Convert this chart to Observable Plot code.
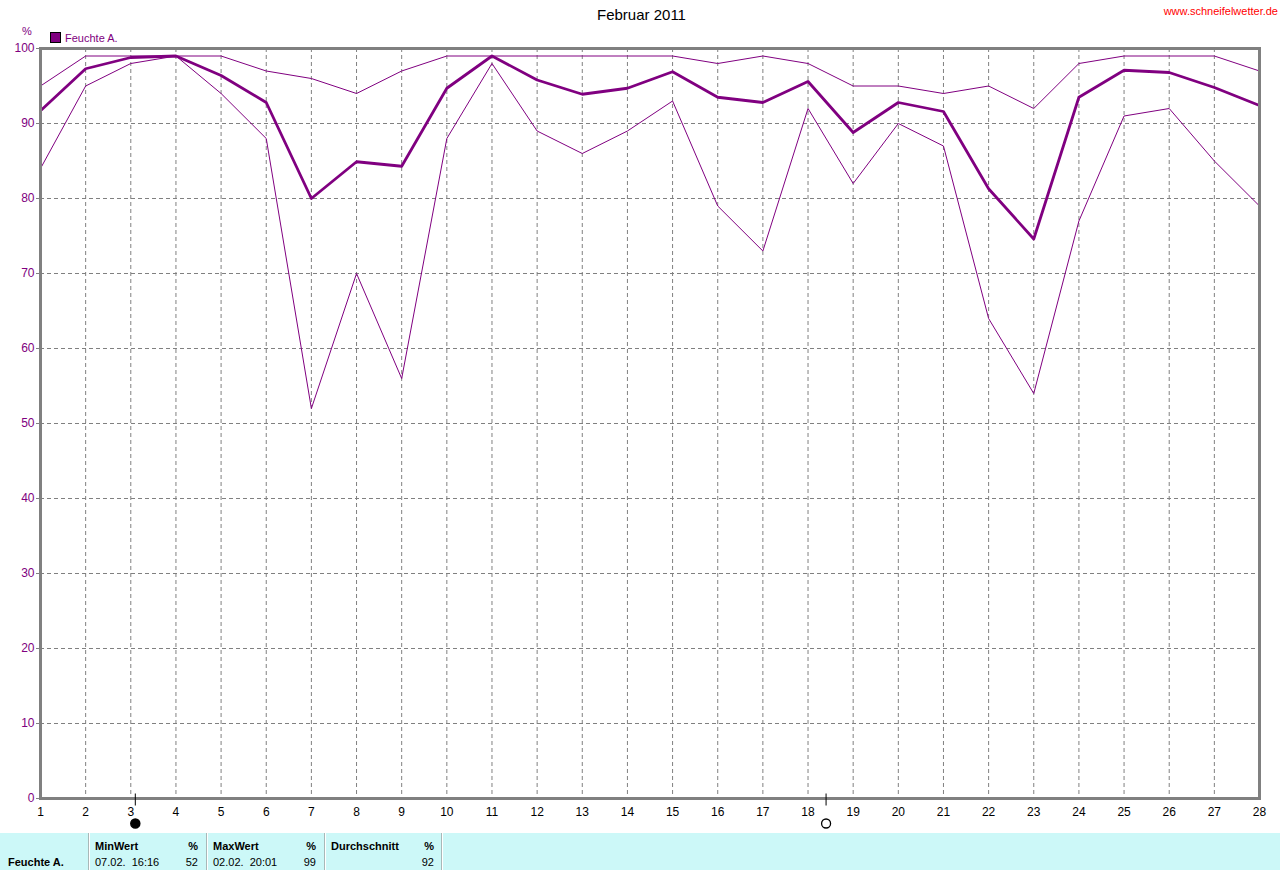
<!DOCTYPE html>
<html>
<head>
<meta charset="utf-8">
<script src="https://cdn.jsdelivr.net/npm/d3@7"></script>
<script src="https://cdn.jsdelivr.net/npm/@observablehq/plot@0.6"></script>
<style>
  html, body { margin: 0; padding: 0; background: #ffffff; }
  #wrap { position: relative; width: 1280px; height: 870px; overflow: hidden; font-family: "Liberation Sans", Arial, sans-serif; }
  #chart { position: absolute; left: 0; top: 0; }
  .abs { position: absolute; white-space: pre; line-height: 1; }
  #title { left: 0; width: 1283px; top: 7px; text-align: center; font-size: 15px; color: #000; }
  #site { right: 2px; top: 6px; font-size: 11px; color: #ff0000; }
  #unit { left: 22px; top: 26px; font-size: 11px; color: #800080; }
  #legend { left: 50px; top: 32px; font-size: 11px; color: #800080; }
  #legend .sw { display: inline-block; width: 9px; height: 9px; background: #800080; border: 1px solid #000; vertical-align: -1px; margin-right: 4px; }
  #table { position: absolute; left: 0; top: 833px; width: 1280px; height: 37px; background: #ccf8f8; font-size: 11px; }
  .sep { position: absolute; top: 0; width: 1px; height: 37px; background: #a8b8b8; border-right: 1px solid #ffffff; }
  .b { font-weight: bold; }
</style>
</head>
<body>
<div id="wrap">
  <div id="chart"></div>
  <div id="title" class="abs">Februar 2011</div>
  <div id="site" class="abs">www.schneifelwetter.de</div>
  <div id="unit" class="abs">%</div>
  <div id="legend" class="abs"><span class="sw"></span>Feuchte A.</div>
  <div id="table"></div>
</div>
<script>
// ---- data ----
const days = d3.range(1, 29);
const maxVals = [95, 99, 99, 99, 99, 97, 96, 94, 97, 99, 99, 99, 99, 99, 99, 98, 99, 98, 95, 95, 94, 95, 92, 98, 99, 99, 99, 97];
const avgVals = [91.7, 97.3, 98.8, 99, 96.4, 92.8, 80, 84.9, 84.3, 94.7, 99, 95.8, 93.9, 94.7, 96.9, 93.5, 92.8, 95.6, 88.8, 92.8, 91.6, 81.3, 74.6, 93.5, 97.1, 96.8, 94.8, 92.4];
const minVals = [84, 95, 98, 99, 94, 88, 52, 70, 56, 88, 98, 89, 86, 89, 93, 79, 73, 92, 82, 90, 87, 64, 54, 77, 91, 92, 85, 79];
const yTicks = d3.range(0, 101, 10);
const moonDays = [3.1, 18.4];
const moonTypes = ["new", "full"];

const tableHeaders = ["MinWert", "MaxWert", "Durchschnitt"];
const tableUnits = ["%", "%", "%"];
const tableTimes = ["07.02.  16:16", "02.02.  20:01", ""];
const tableValues = ["52", "99", "92"];
const seriesName = "Feuchte A.";

// ---- build ----
const rows = days.map((d, i) => ({day: d, max: maxVals[i], avg: avgVals[i], min: minVals[i]}));
const moons = moonDays.map((d, i) => ({day: d, type: moonTypes[i]}));
const purple = "#800080";
const gray = "#808080";
const tickSymbol = {draw(ctx) { ctx.moveTo(0, -5); ctx.lineTo(0, 7); }};

const chart = Plot.plot({
  width: 1280,
  height: 830,
  marginTop: 48,
  marginRight: 21,
  marginBottom: 32,
  marginLeft: 40,
  style: {fontFamily: "'Liberation Sans', Arial, sans-serif", fontSize: "12px", background: "transparent", overflow: "visible"},
  x: {domain: [1, 28], label: null},
  y: {domain: [0, 100], label: null},
  marks: [
    Plot.gridX(days, {stroke: gray, strokeOpacity: 1, strokeDasharray: "4,3"}),
    Plot.gridY(yTicks.slice(1, -1), {stroke: gray, strokeOpacity: 1, strokeDasharray: "4,3"}),
    Plot.line(rows, {x: "day", y: "max", stroke: purple, strokeWidth: 1}),
    Plot.line(rows, {x: "day", y: "min", stroke: purple, strokeWidth: 1}),
    Plot.line(rows, {x: "day", y: "avg", stroke: purple, strokeWidth: 2.8}),
    Plot.frame({stroke: gray, strokeWidth: 3}),
    Plot.axisY(yTicks, {tickSize: 4, tickPadding: 2, stroke: gray, fill: purple, fontSize: 12, label: null}),
    Plot.axisX(days, {tickSize: 0, tickPadding: 9, fill: "#000", fontSize: 12, label: null}),
    Plot.dot(moons, {x: "day", y: 0, symbol: tickSymbol, stroke: "#000", fill: "none", strokeWidth: 1}),
    Plot.dot(moons.filter(m => m.type === "new"), {x: "day", y: 0, dy: 25, r: 4.5, fill: "#000", stroke: "#000"}),
    Plot.dot(moons.filter(m => m.type === "full"), {x: "day", y: 0, dy: 25, r: 4.5, fill: "#fff", stroke: "#000", strokeWidth: 1.3})
  ]
});
document.getElementById("chart").appendChild(chart);

// ---- table ----
const tbl = document.getElementById("table");
function addText(txt, left, top, cls, right) {
  const el = document.createElement("div");
  el.className = "abs" + (cls ? " " + cls : "");
  el.textContent = txt;
  el.style.top = top + "px";
  if (right) { el.style.left = (left - 60) + "px"; el.style.width = "60px"; el.style.textAlign = "right"; }
  else el.style.left = left + "px";
  tbl.appendChild(el);
}
[88, 206, 324, 441].forEach(x => {
  const s = document.createElement("div");
  s.className = "sep"; s.style.left = x + "px"; tbl.appendChild(s);
});
addText(seriesName, 8, 24, "b");
const colStarts = [95, 213, 331];
const colEnds = [198, 316, 434];
tableHeaders.forEach((h, i) => {
  addText(h, colStarts[i], 8, "b");
  addText(tableUnits[i], colEnds[i], 8, "b", true);
  addText(tableTimes[i], colStarts[i], 24, "");
  addText(tableValues[i], colEnds[i], 24, "", true);
});
</script>
</body>
</html>
